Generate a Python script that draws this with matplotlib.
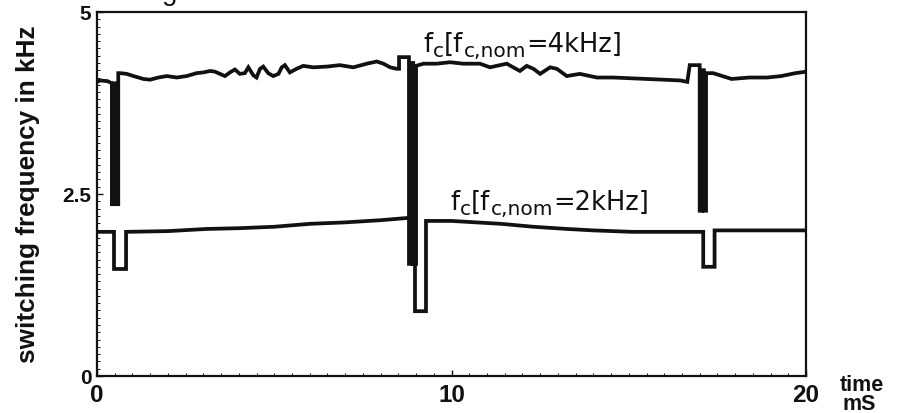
import numpy as np
import matplotlib
matplotlib.use('Agg')
import matplotlib.pyplot as plt
from matplotlib.ticker import MultipleLocator

plt.rcParams['font.family'] = ['Liberation Sans', 'DejaVu Sans']

INK = '#111111'

# -- data (time in ms, frequency in kHz) ---------------------------------
# trace for f_c,nom = 4 kHz
t4 = [0.0, 0.085, 0.30, 0.42,
      0.42, 0.48, 0.48, 0.54, 0.54, 0.60, 0.60,
      0.65, 0.84, 1.03, 1.31, 1.50, 1.73, 1.97, 2.25, 2.53, 2.81,
      3.00, 3.19, 3.33, 3.47, 3.61, 3.75, 3.89, 4.03, 4.17, 4.27,
      4.41, 4.50, 4.60, 4.69, 4.83, 4.97, 5.12, 5.21, 5.30, 5.44,
      5.63, 5.82, 6.10, 6.48, 6.85, 7.23, 7.61, 7.89, 8.08, 8.27,
      8.45, 8.52, 8.52, 8.80,
      8.80, 8.86, 8.86, 8.92, 8.92, 9.00, 9.00,
      9.21, 9.58, 9.96, 10.33, 10.80, 11.09, 11.27, 11.56, 11.74, 11.93,
      12.12, 12.31, 12.50, 12.78, 12.97, 13.25, 13.62, 14.10, 14.57, 15.04,
      15.51, 15.98, 16.45, 16.65, 16.72, 17.00,
      17.00, 17.06, 17.06, 17.12, 17.12, 17.18, 17.18,
      17.38, 17.90, 18.40, 18.90, 19.30, 19.70, 20.0]
f4 = [4.04, 4.06, 4.05, 4.02,
      2.36, 2.36, 4.02, 4.02, 2.36, 2.36, 4.16,
      4.16, 4.15, 4.12, 4.08, 4.07, 4.10, 4.12, 4.10, 4.12, 4.16,
      4.17, 4.19, 4.18, 4.15, 4.12, 4.17, 4.21, 4.15, 4.16, 4.24,
      4.13, 4.10, 4.22, 4.25, 4.16, 4.12, 4.15, 4.24, 4.27, 4.17,
      4.22, 4.26, 4.24, 4.25, 4.27, 4.24, 4.29, 4.32, 4.29, 4.24,
      4.22, 4.22, 4.38, 4.38,
      1.54, 1.54, 4.30, 4.30, 1.54, 1.54, 4.26,
      4.29, 4.29, 4.31, 4.29, 4.29, 4.24, 4.26, 4.29, 4.24, 4.19,
      4.26, 4.22, 4.15, 4.24, 4.22, 4.12, 4.15, 4.10, 4.10, 4.09,
      4.08, 4.07, 4.06, 4.04, 4.27, 4.27,
      2.27, 2.27, 4.20, 4.20, 2.27, 2.27, 4.16,
      4.16, 4.08, 4.10, 4.10, 4.12, 4.16, 4.18]

# trace for f_c,nom = 2 kHz
t2 = [0.0, 0.48, 0.48, 0.82, 0.82, 2.0, 3.1, 4.0, 5.0, 6.0, 7.0, 8.0, 8.5,
      8.97, 8.97, 9.28, 9.28, 10.0, 11.4, 12.3, 13.25, 14.0, 15.1,
      17.1, 17.1, 17.42, 17.42, 18.5, 20.0]
f2 = [1.98, 1.98, 1.47, 1.47, 1.98, 1.99, 2.02, 2.03, 2.05, 2.09, 2.11, 2.14, 2.16,
      2.18, 0.89, 0.89, 2.13, 2.13, 2.09, 2.05, 2.02, 2.00, 1.98,
      1.98, 1.50, 1.50, 2.00, 2.00, 2.00]

x_ticks = [0, 10, 20]
y_ticks = [0, 2.5, 5]
y_tick_labels = ['0', '2.5', '5']


def series_label(ax, x, y, nominal):
    # f_c[f_c,nom=...] built piece by piece so the subscripts keep their size
    pieces = [('f', 18.5, 0), ('c', 14.5, -4), ('[f', 18.5, 0), ('c,nom', 14.5, -4),
              ('=' + nominal + ']', 18.5, 0)]
    prev = None
    for s, size, dy in pieces:
        if prev is None:
            prev = ax.annotate(s, xy=(x, y), xycoords='data', xytext=(0, dy),
                               textcoords='offset points', fontsize=size,
                               family='DejaVu Sans', ha='left', va='baseline',
                               color=INK)
        else:
            prev = ax.annotate(s, xy=(1, y), xycoords=(prev, 'data'),
                               xytext=(0.3, dy), textcoords='offset points',
                               fontsize=size, family='DejaVu Sans',
                               ha='left', va='baseline', color=INK)


fig = plt.figure(figsize=(8.98, 4.14), dpi=100, facecolor='white')
ax = fig.add_axes([0.108, 0.0894, 0.7896, 0.8792])

ax.plot(t4, f4, color=INK, lw=2.7, solid_joinstyle='miter')
ax.plot(t2, f2, color=INK, lw=2.7, solid_joinstyle='miter')

ax.set_xlim(0, 20)
ax.set_ylim(0, 5)
ax.set_xticks(x_ticks)
ax.set_xticklabels([str(v) for v in x_ticks], fontsize=17.5, fontweight='bold')
ax.set_yticks(y_ticks)
ax.set_yticklabels(y_tick_labels, fontsize=15, fontweight='bold')
ax.xaxis.set_minor_locator(MultipleLocator(0.5))
ax.yaxis.set_minor_locator(MultipleLocator(0.1))
ax.tick_params(which='major', direction='in', length=4, width=1, colors=INK)
ax.tick_params(which='minor', direction='in', length=2, width=0.7, colors=INK)
ax.tick_params(axis='x', pad=5)
ax.tick_params(axis='y', pad=4)
for sp in ax.spines.values():
    sp.set_color(INK)
    sp.set_linewidth(1.6)

series_label(ax, 9.2, 4.47, '4kHz')
series_label(ax, 9.96, 2.30, '2kHz')

fig.text(28 / 898, 1 - 194 / 414, 'switching frequency in kHz', rotation=90,
         ha='center', va='center', fontsize=18.8, fontweight='bold', color=INK)
fig.text(862 / 898, 1 - 386 / 414, 'time', ha='center', va='center',
         fontsize=15.5, fontweight='bold', color=INK)
fig.text(859 / 898, 1 - 405 / 414, 'mS', ha='center', va='center',
         fontsize=15.5, fontweight='bold', color=INK)
# remnant of a caption above the frame, cut by the image edge
fig.text(170 / 898, 1.0, 'g', ha='center', va='baseline', fontsize=20, color=INK)

fig.savefig('out.png', dpi=100, facecolor='white')
